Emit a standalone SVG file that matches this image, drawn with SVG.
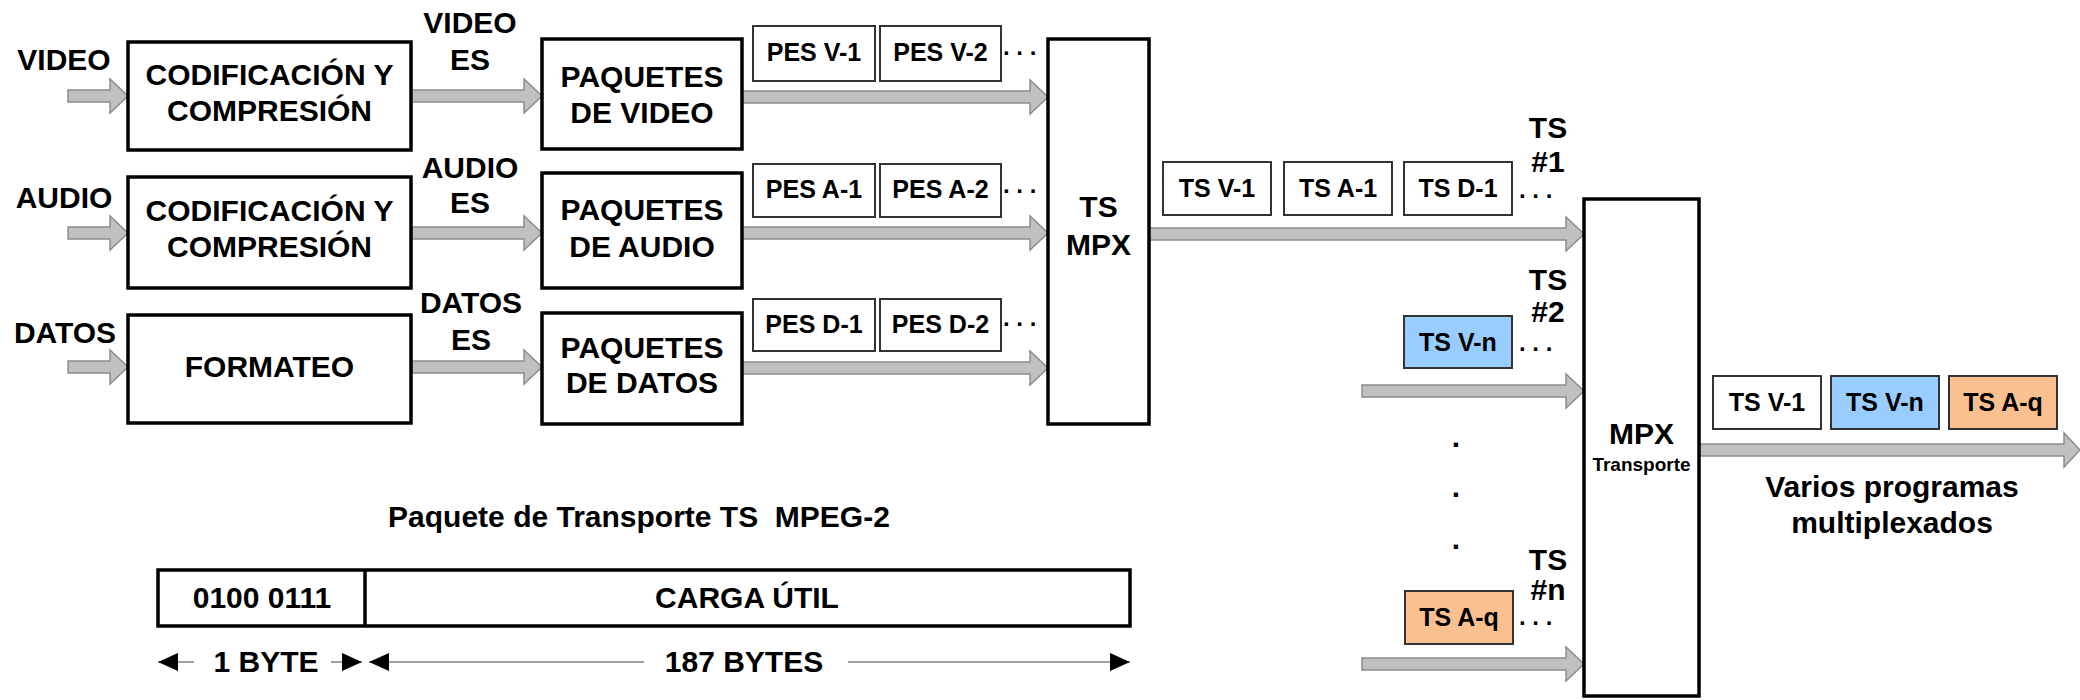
<svg xmlns="http://www.w3.org/2000/svg" width="2080" height="700" viewBox="0 0 2080 700">
<defs>
<style>
text{font-family:"Liberation Sans",Arial,sans-serif;font-weight:bold;fill:#000;text-anchor:middle}
.big{font-size:30px}
.med{font-size:25px}
.sm{font-size:19px}
.dots{font-size:24px;text-anchor:start}
.box{fill:#fff;stroke:#000;stroke-width:3.5}
.pkt{fill:#fff;stroke:#333;stroke-width:2}
.blue{fill:#99CCFF;stroke:#333;stroke-width:2}
.peach{fill:#FAC090;stroke:#333;stroke-width:2}
.fat{fill:#C0C0C0;stroke:#8C8C8C;stroke-width:1.5}
.dim{stroke:#A0A0A0;stroke-width:2;fill:none}
</style>
<marker id="head" viewBox="0 0 20 18" refX="20" refY="9" markerWidth="20" markerHeight="18" markerUnits="userSpaceOnUse" orient="auto-start-reverse">
<path d="M0,0 L20,9 L0,18 Z" fill="#000"/>
</marker>
</defs>
<rect width="2080" height="700" fill="#fff"/>

<g id="connectors">
<path class="fat" d="M68,90 H110 V79 L128,96 L110,113 V102 H68 Z"/>
<path class="fat" d="M68,227 H110 V216 L128,233 L110,250 V239 H68 Z"/>
<path class="fat" d="M68,361 H110 V350 L128,367 L110,384 V373 H68 Z"/>
<path class="fat" d="M411,90 H524 V79 L542,96 L524,113 V102 H411 Z"/>
<path class="fat" d="M411,227 H524 V216 L542,233 L524,250 V239 H411 Z"/>
<path class="fat" d="M411,361 H524 V350 L542,367 L524,384 V373 H411 Z"/>
<path class="fat" d="M742,91 H1030 V80 L1048,97 L1030,114 V103 H742 Z"/>
<path class="fat" d="M742,227 H1030 V216 L1048,233 L1030,250 V239 H742 Z"/>
<path class="fat" d="M742,362 H1030 V351 L1048,368 L1030,385 V374 H742 Z"/>
<path class="fat" d="M1149,228 H1566 V217 L1584,234 L1566,251 V240 H1149 Z"/>
<path class="fat" d="M1362,385 H1566 V374 L1584,391 L1566,408 V397 H1362 Z"/>
<path class="fat" d="M1362,658 H1566 V647 L1584,664 L1566,681 V670 H1362 Z"/>
<path class="fat" d="M1699,444 H2064 V433 L2080,450 L2064,467 V456 H1699 Z"/>
</g>

<g id="label-inputs">
<text class="big" x="64" y="70">VIDEO</text>
<text class="big" x="64" y="208">AUDIO</text>
<text class="big" x="65" y="343">DATOS</text>
</g>

<g id="cod-video">
<rect class="box" x="128" y="42" width="283" height="108"/>
<text class="big" x="269.5" y="85">CODIFICACIÓN Y</text>
<text class="big" x="269.5" y="121">COMPRESIÓN</text>
</g>
<g id="cod-audio">
<rect class="box" x="128" y="177" width="283" height="111"/>
<text class="big" x="269.5" y="221">CODIFICACIÓN Y</text>
<text class="big" x="269.5" y="257">COMPRESIÓN</text>
</g>
<g id="formateo">
<rect class="box" x="128" y="315" width="283" height="108"/>
<text class="big" x="269.5" y="377">FORMATEO</text>
</g>

<g id="label-es">
<text class="big" x="470" y="33">VIDEO</text>
<text class="big" x="470" y="70">ES</text>
<text class="big" x="470" y="178">AUDIO</text>
<text class="big" x="470" y="213">ES</text>
<text class="big" x="471" y="313">DATOS</text>
<text class="big" x="471" y="350">ES</text>
</g>

<g id="paq-video">
<rect class="box" x="542" y="39" width="200" height="110"/>
<text class="big" x="642" y="87">PAQUETES</text>
<text class="big" x="642" y="123">DE VIDEO</text>
</g>
<g id="paq-audio">
<rect class="box" x="542" y="173" width="200" height="115"/>
<text class="big" x="642" y="220">PAQUETES</text>
<text class="big" x="642" y="257">DE AUDIO</text>
</g>
<g id="paq-datos">
<rect class="box" x="542" y="313" width="200" height="111"/>
<text class="big" x="642" y="358">PAQUETES</text>
<text class="big" x="642" y="393">DE DATOS</text>
</g>

<g id="pes-video">
<rect class="pkt" x="753" y="26" width="122" height="55"/>
<text class="med" x="814" y="61">PES V-1</text>
<rect class="pkt" x="880" y="26" width="121" height="55"/>
<text class="med" x="940.5" y="61">PES V-2</text>
<text class="dots" x="1003" y="55">. . .</text>
</g>
<g id="pes-audio">
<rect class="pkt" x="753" y="164" width="122" height="53"/>
<text class="med" x="814" y="198">PES A-1</text>
<rect class="pkt" x="880" y="164" width="121" height="53"/>
<text class="med" x="940.5" y="198">PES A-2</text>
<text class="dots" x="1003" y="193">. . .</text>
</g>
<g id="pes-datos">
<rect class="pkt" x="753" y="299" width="122" height="52"/>
<text class="med" x="814" y="333">PES D-1</text>
<rect class="pkt" x="880" y="299" width="121" height="52"/>
<text class="med" x="940.5" y="333">PES D-2</text>
<text class="dots" x="1003" y="326">. . .</text>
</g>

<g id="ts-mpx">
<rect class="box" x="1048" y="39" width="101" height="385"/>
<text class="big" x="1098.5" y="217">TS</text>
<text class="big" x="1098.5" y="255">MPX</text>
</g>

<g id="ts1-packets">
<rect class="pkt" x="1163" y="162" width="108" height="53"/>
<text class="med" x="1217" y="197">TS V-1</text>
<rect class="pkt" x="1284" y="162" width="108" height="53"/>
<text class="med" x="1338" y="197">TS A-1</text>
<rect class="pkt" x="1404" y="162" width="108" height="53"/>
<text class="med" x="1458" y="197">TS D-1</text>
<text class="dots" x="1519" y="198">. . .</text>
<text class="big" x="1548" y="138">TS</text>
<text class="big" x="1548" y="172">#1</text>
</g>

<g id="ts2-packets">
<rect class="blue" x="1404" y="316" width="108" height="52"/>
<text class="med" x="1458" y="351">TS V-n</text>
<text class="dots" x="1519" y="351">. . .</text>
<text class="big" x="1548" y="290">TS</text>
<text class="big" x="1548" y="322">#2</text>
</g>

<g id="vdots">
<text class="big" x="1456" y="447">.</text>
<text class="big" x="1456" y="497">.</text>
<text class="big" x="1456" y="549">.</text>
</g>

<g id="tsn-packets">
<rect class="peach" x="1405" y="591" width="108" height="53"/>
<text class="med" x="1459" y="626">TS A-q</text>
<text class="dots" x="1519" y="625">. . .</text>
<text class="big" x="1548" y="570">TS</text>
<text class="big" x="1548" y="600">#n</text>
</g>

<g id="mpx-transporte">
<rect class="box" x="1584" y="199" width="115" height="497"/>
<text class="big" x="1641.5" y="444">MPX</text>
<text class="sm" x="1641.5" y="471">Transporte</text>
</g>

<g id="output-packets">
<rect class="pkt" x="1713" y="376" width="108" height="53"/>
<text class="med" x="1767" y="411">TS V-1</text>
<rect class="blue" x="1831" y="376" width="108" height="53"/>
<text class="med" x="1885" y="411">TS V-n</text>
<rect class="peach" x="1949" y="376" width="108" height="53"/>
<text class="med" x="2003" y="411">TS A-q</text>
<text class="big" x="1892" y="497">Varios programas</text>
<text class="big" x="1892" y="533">multiplexados</text>
</g>

<g id="ts-packet">
<text class="big" x="639" y="527">Paquete de Transporte TS&#160; MPEG-2</text>
<rect class="box" x="158" y="570" width="972" height="56"/>
<line x1="365" y1="570" x2="365" y2="626" stroke="#000" stroke-width="3.5"/>
<text class="big" x="262" y="608">0100 0111</text>
<text class="big" x="747" y="608">CARGA ÚTIL</text>
</g>

<g id="dimensions">
<line class="dim" x1="158" y1="662" x2="194" y2="662" marker-start="url(#head)"/>
<line class="dim" x1="331" y1="662" x2="362" y2="662" marker-end="url(#head)"/>
<line class="dim" x1="369" y1="662" x2="644" y2="662" marker-start="url(#head)"/>
<line class="dim" x1="848" y1="662" x2="1130" y2="662" marker-end="url(#head)"/>
<text class="big" x="266" y="672">1 BYTE</text>
<text class="big" x="744" y="672">187 BYTES</text>
</g>
</svg>
